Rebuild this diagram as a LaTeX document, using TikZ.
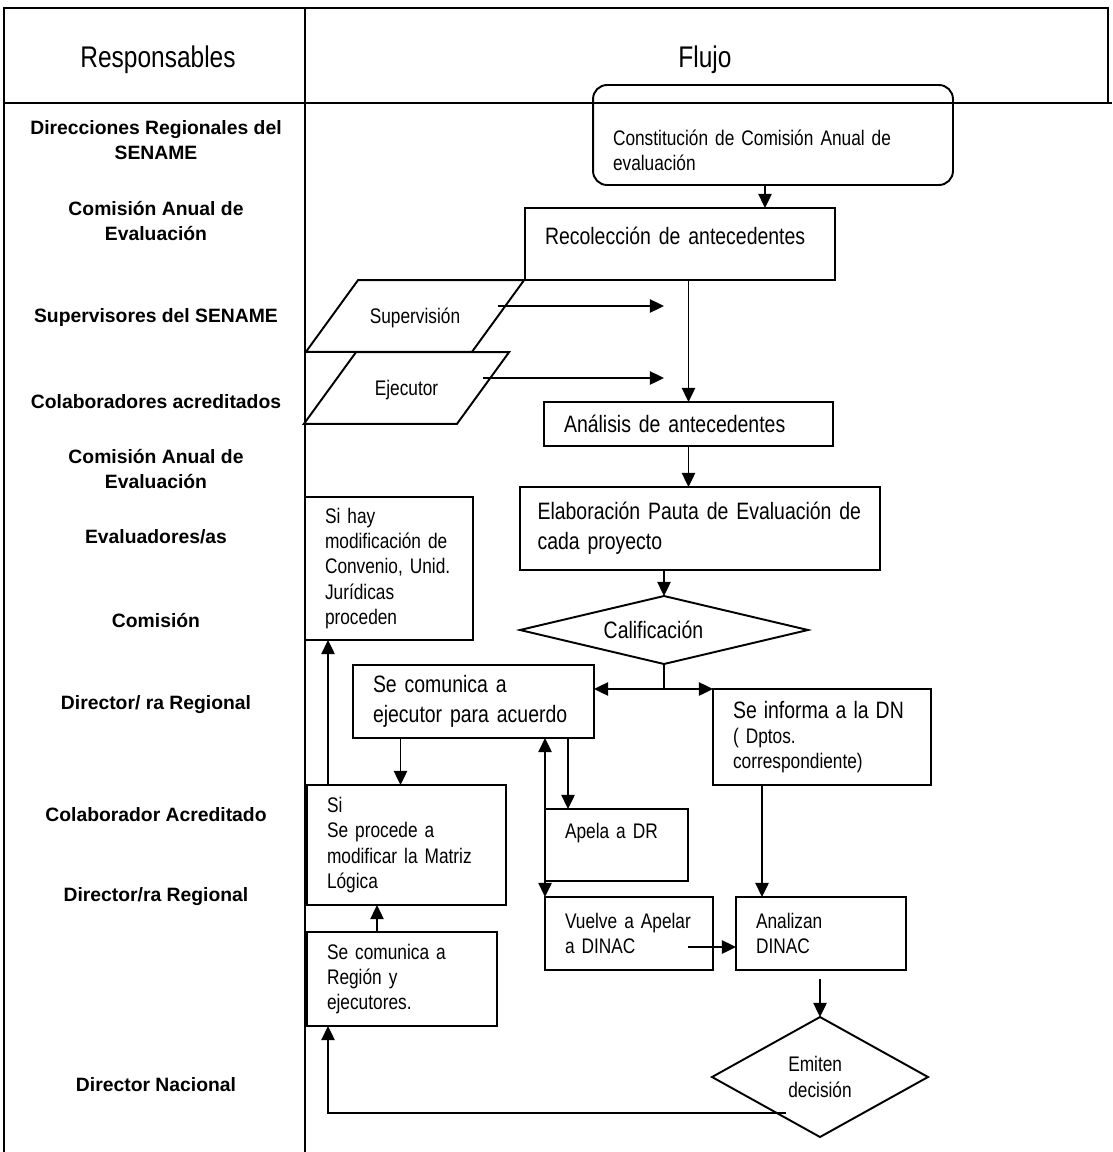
\documentclass[tikz,border=0pt]{standalone}
\usepackage{fontspec}
\setmainfont{Liberation Sans}
\newfontfamily\narrowfont{Liberation Sans}[FakeStretch=0.82, WordSpace=0.8]
\usetikzlibrary{shapes.geometric,arrows.meta}

\begin{document}
\begin{tikzpicture}[x=0.02cm, y=-0.02cm,
    rule/.style={line width=1.1pt},
    arr/.style={-{Triangle[length=8pt,width=7.5pt]}, line width=1.1pt},
    flowbox/.style={draw, line width=1.1pt, align=left, inner xsep=0.4cm, inner ysep=0pt, outer sep=0pt,
        font=\narrowfont\fontsize{12}{14.4}\selectfont},
    bigtext/.style={font=\narrowfont\fontsize{13.5}{17}\selectfont},
    resp/.style={align=center, font=\bfseries\fontsize{11}{14}\selectfont},
    datain/.style={trapezium, draw, line width=1.1pt, trapezium left angle=54, trapezium right angle=126,
        inner sep=0pt, outer sep=0pt, align=center, text height=24.4pt, text depth=16.4pt,
        font=\narrowfont\fontsize{12}{14.4}\selectfont},
    decision/.style={diamond, draw, line width=1.1pt, inner sep=0pt, outer sep=0pt, align=left}]
    \useasboundingbox (0,0) rectangle (1112,1152);

    % tabla
    \draw[rule] (4,1152) -- (4,8) -- (1108,8) -- (1108,103);
    \draw[rule] (4,103) -- (1112,103);
    \draw[rule] (305,8) -- (305,1152);

    \node[font=\narrowfont\fontsize{17}{20}\selectfont] (hresp) at (158,60) {Responsables};
    \node[font=\narrowfont\fontsize{17}{20}\selectfont] (hflujo) at (705,60) {Flujo};

    % responsables
    \node[resp] (r1) at (156,140) {Direcciones Regionales del\\SENAME};
    \node[resp] (r2) at (156,221) {Comisión Anual de\\Evaluación};
    \node[resp] (r3) at (156,318) {Supervisores del SENAME};
    \node[resp] (r4) at (156,402) {Colaboradores acreditados};
    \node[resp] (r5) at (156,469) {Comisión Anual de\\Evaluación};
    \node[resp] (r6) at (156,537) {Evaluadores/as};
    \node[resp] (r7) at (156,621) {Comisión};
    \node[resp] (r8) at (156,705) {Director/ ra Regional};
    \node[resp] (r9) at (156,815) {Colaborador Acreditado};
    \node[resp] (r10) at (156,897) {Director/ra Regional};
    \node[resp] (r11) at (156,1085) {Director Nacional};

    % flujo
    \node[flowbox, rounded corners=8pt, text width=6.4cm, minimum height=2cm, text height=26pt] (const) at (773,135) {Constitución de Comisión Anual de\\evaluación};
    \node[flowbox, bigtext, text width=5.4cm, minimum height=1.44cm, text height=10pt, text depth=10pt] (recol) at (680,244) {Recolección de antecedentes};
    \node[datain, text width=2.28cm] (sup) at (415,316) {Supervisión};
    \node[datain, text width=2.02cm] (ejec) at (406.5,388) {Ejecutor};
    \node[flowbox, bigtext, text width=4.98cm, minimum height=0.88cm] (anal) at (688.5,424) {Análisis de antecedentes};
    \node[flowbox, bigtext, inner xsep=0.35cm, text width=6.5cm, minimum height=1.66cm] (elab) at (700,528.5) {Elaboración Pauta de Evaluación de\\cada proyecto};
    \node[decision, bigtext, aspect=4.2, minimum width=5.76cm, minimum height=1.36cm] (calif) at (664,630) {Calificación\hspace{12pt}};
    \node[flowbox, text width=2.56cm, minimum height=2.86cm] (sihay) at (389,568.5) {Si hay\\modificación de\\Convenio, Unid.\\Jurídicas\\proceden};
    \node[flowbox, bigtext, text width=4.02cm, minimum height=1.46cm] (secom) at (473.5,701.5) {Se comunica a\\ejecutor para acuerdo};
    \node[flowbox, text width=3.56cm, minimum height=1.92cm] (seinf) at (822,737) {{\fontsize{13.5}{17}\selectfont Se informa a la DN}\\( Dptos.\\correspondiente)};
    \node[flowbox, text width=3.18cm, minimum height=2.4cm] (si) at (406.5,845) {Si\\Se procede a\\modificar la Matriz\\Lógica};
    \node[flowbox, text width=2.06cm, minimum height=1.44cm, text height=10pt, text depth=17pt] (apela) at (616.5,845) {Apela a DR};
    \node[flowbox, text width=2.56cm, minimum height=1.46cm] (vuelve) at (629,933.5) {Vuelve a Apelar\\a DINAC};
    \node[flowbox, text width=2.6cm, minimum height=1.46cm] (analiz) at (821,933.5) {Analizan\\DINAC};
    \node[flowbox, text width=3.0cm, minimum height=1.88cm] (region) at (402,979) {Se comunica a\\Región y\\ejecutores.};
    \node[decision, font=\narrowfont\fontsize{12}{14.4}\selectfont, aspect=1.8, minimum width=4.32cm, minimum height=2.4cm] (emit) at (820,1077) {Emiten\\decisión\hspace{12pt}};

    \coordinate (supend) at (664,306);
    \coordinate (ejecend) at (664,378);
    \coordinate (split) at (664,689);

    \path [arr] ([xshift=-0.16cm]const.south) edge ([xshift=-0.16cm]const.south |- recol.north);
    \path [arr] (supend -| sup.east) edge (supend);
    \path [arr] (ejecend -| ejec.east) edge (ejecend);
    \path [arr] (anal.north |- recol.south) edge (anal.north);
    \path [arr] (anal.south) edge (anal.south |- elab.north);
    \path [arr] (calif.north |- elab.south) edge (calif.north);

    \draw[rule] (calif.south) -- (split);
    \path [arr] (split) edge (split -| secom.east);
    \path [arr] (split) edge (split -| seinf.west);

    \path [arr] ([xshift=-0.12cm]si.north |- secom.south) edge ([xshift=-0.12cm]si.north);
    \path [arr] ([xshift=0.42cm]si.north west) edge ([xshift=0.42cm]si.north west |- sihay.south);
    \path [arr] ([xshift=1.4cm]region.north west) edge ([xshift=1.4cm]region.north west |- si.south);

    \path [arr] (apela.north west) edge (apela.north west |- secom.south);
    \path [arr] (apela.north west) edge (vuelve.north west);
    \path [arr] ([xshift=0.46cm]apela.north west |- secom.south) edge ([xshift=0.46cm]apela.north west);

    \path [arr] ([xshift=0.98cm]seinf.south west) edge ([xshift=0.98cm]seinf.south west |- analiz.north);
    \path [arr] ([xshift=-0.5cm,yshift=-0.27cm]vuelve.east) edge ([yshift=-0.27cm]analiz.west);
    \path [arr] ([yshift=-0.18cm]emit.north |- analiz.south) edge (emit.north);
    \draw[arr] ([xshift=-0.68cm,yshift=-0.72cm]emit.center) -| ([xshift=0.42cm]region.south west);

\end{tikzpicture}
\end{document}
